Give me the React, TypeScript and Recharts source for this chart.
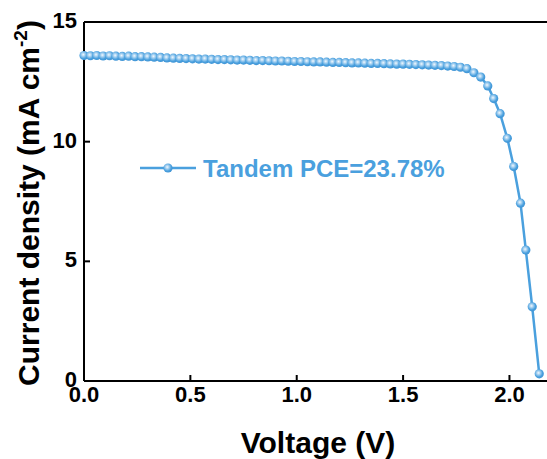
import React from 'react';
import { LineChart, Line, XAxis, YAxis, ReferenceLine, Customized } from 'recharts';

// J-V sweep of the tandem cell
const voltage = [
  0, 0.03, 0.06, 0.09, 0.12, 0.15, 0.18, 0.21, 0.24, 0.27, 0.3, 0.33, 0.36, 0.39, 0.42, 0.45,
  0.48, 0.51, 0.54, 0.57, 0.6, 0.63, 0.66, 0.69, 0.72, 0.75, 0.78, 0.81, 0.84, 0.87, 0.9, 0.93,
  0.96, 0.99, 1.02, 1.05, 1.08, 1.11, 1.14, 1.17, 1.2, 1.23, 1.26, 1.29, 1.32, 1.35, 1.38, 1.41,
  1.44, 1.47, 1.5, 1.53, 1.56, 1.59, 1.62, 1.65, 1.68, 1.71, 1.74, 1.77, 1.8, 1.833, 1.865,
  1.898, 1.926, 1.956, 1.99, 2.02, 2.052, 2.077, 2.107, 2.14,
];
const currentDensity = [
  13.6, 13.59, 13.6, 13.58, 13.59, 13.57, 13.56, 13.57, 13.55, 13.55, 13.54, 13.53, 13.52, 13.5,
  13.49, 13.48, 13.47, 13.46, 13.45, 13.45, 13.44, 13.43, 13.43, 13.42, 13.41, 13.41, 13.4, 13.39,
  13.39, 13.38, 13.37, 13.37, 13.36, 13.35, 13.35, 13.34, 13.33, 13.33, 13.32, 13.31, 13.31, 13.3,
  13.29, 13.29, 13.28, 13.27, 13.27, 13.26, 13.25, 13.24, 13.24, 13.23, 13.22, 13.21, 13.2, 13.19,
  13.18, 13.16, 13.14, 13.11, 13.05, 12.88, 12.7, 12.33, 11.8, 11.17, 10.14, 8.96, 7.43, 5.47,
  3.1, 0.3,
];
const xTicks = [0, 0.5, 1.0, 1.5, 2.0];
const yTicks = [0, 5, 10, 15];
const legendLabel = 'Tandem PCE=23.78%';

const data = voltage.map((v, i) => ({ v, j: currentDensity[i] }));

const BLUE = '#4aa0de';
const FONT = '"Liberation Sans", Arial, Helvetica, sans-serif';

const Ball = ({ cx, cy, r = 4.6 }: { cx: number; cy: number; r?: number }) => (
  <circle cx={cx} cy={cy} r={r} fill="url(#ballGrad)" />
);

const renderDot = (props: any) => {
  const { cx, cy, index } = props;
  if (cx == null || cy == null) return <g key={index} />;
  return <Ball key={index} cx={cx} cy={cy} />;
};

const XTick = (props: any) => {
  const { x, y, payload } = props;
  return (
    <g>
      <line x1={x} x2={x} y1={y - 6} y2={y} stroke="#000" strokeWidth={2} />
      <text x={x} y={y + 21} textAnchor="middle" fontFamily={FONT} fontWeight="bold" fontSize={22} fill="#000">
        {Number(payload.value).toFixed(1)}
      </text>
    </g>
  );
};

const YTick = (props: any) => {
  const { x, y, payload } = props;
  return (
    <g>
      <line x1={x} x2={x + 6} y1={y} y2={y} stroke="#000" strokeWidth={2} />
      <text x={x - 7} y={y + 6} textAnchor="end" fontFamily={FONT} fontWeight="bold" fontSize={22} fill="#000">
        {payload.value}
      </text>
    </g>
  );
};

const Extras = () => (
  <g>
    <defs>
      <radialGradient id="ballGrad" cx="42%" cy="40%" r="62%">
        <stop offset="0%" stopColor="#f2f8fd" />
        <stop offset="30%" stopColor="#a9d2f1" />
        <stop offset="70%" stopColor={BLUE} />
        <stop offset="100%" stopColor="#3f93d4" />
      </radialGradient>
    </defs>
    {/* legend */}
    <line x1={140} x2={196} y1={168} y2={168} stroke={BLUE} strokeWidth={2.5} />
    <Ball cx={168} cy={168} />
    <text x={203} y={177} fontFamily={FONT} fontWeight="bold" fontSize={24} fill={BLUE}>
      {legendLabel}
    </text>
    {/* axis titles */}
    <text x={318} y={453} textAnchor="middle" fontFamily={FONT} fontWeight="bold" fontSize={30} fill="#000">
      Voltage (V)
    </text>
    <text
      x={0}
      y={0}
      transform="translate(39,203) rotate(-90)"
      textAnchor="middle"
      fontFamily={FONT}
      fontWeight="bold"
      fontSize={30}
      fill="#000"
    >
      Current density (mA cm
      <tspan fontSize={19} dy={-12}>-2</tspan>
      <tspan dy={12}>)</tspan>
    </text>
  </g>
);

export default function App() {
  return (
    <div style={{ position: 'absolute', left: 0, top: 0, width: 547, height: 459, overflow: 'hidden', background: '#fff' }}>
      <LineChart width={552} height={459} data={data} margin={{ top: 22, right: 0, left: 0, bottom: 0 }}>
        <XAxis
          dataKey="v"
          type="number"
          domain={[0, 2.2]}
          ticks={xTicks}
          height={78}
          axisLine={{ stroke: '#000', strokeWidth: 2 }}
          tickLine={false}
          tickSize={0}
          tickMargin={0}
          tick={<XTick />}
          interval={0}
        />
        <YAxis
          dataKey="j"
          type="number"
          domain={[0, 15]}
          ticks={yTicks}
          width={84}
          axisLine={{ stroke: '#000', strokeWidth: 2 }}
          tickLine={false}
          tickSize={0}
          tickMargin={0}
          tick={<YTick />}
          interval={0}
        />
        <ReferenceLine y={15} stroke="#000" strokeWidth={2} />
        <Line
          type="linear"
          dataKey="j"
          stroke={BLUE}
          strokeWidth={2.5}
          dot={renderDot}
          activeDot={false}
          isAnimationActive={false}
        />
        <Customized component={Extras} />
      </LineChart>
    </div>
  );
}
